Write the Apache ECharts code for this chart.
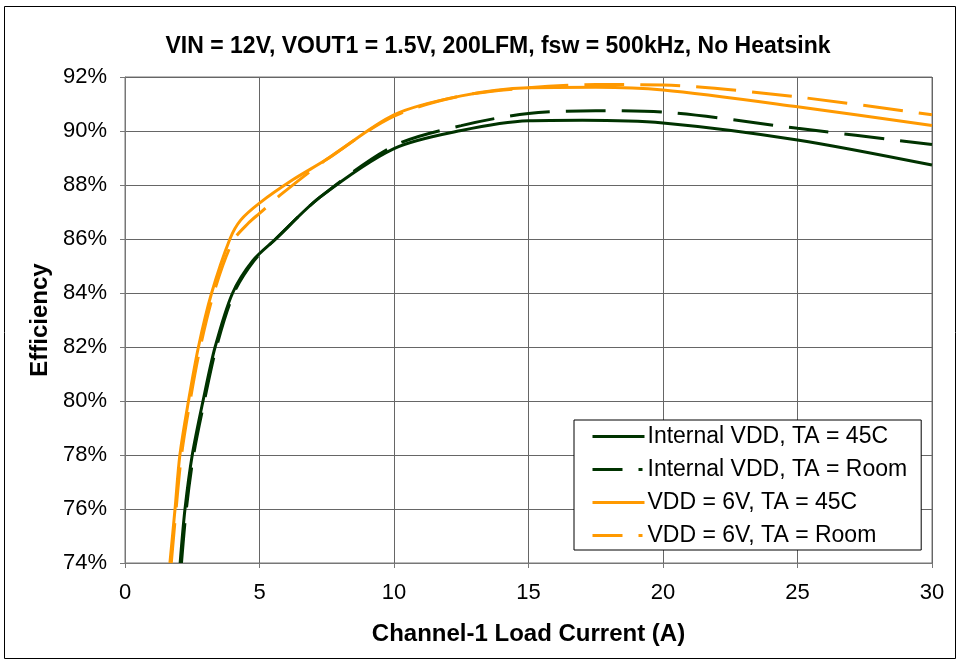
<!DOCTYPE html>
<html>
<head>
<meta charset="utf-8">
<script src="https://cdn.jsdelivr.net/npm/echarts@6/dist/echarts.min.js"></script>
<style>
html, body { margin: 0; padding: 0; background: #fff; }
#box { width: 964px; height: 664px; }
</style>
</head>
<body>
<div id="box"></div>
<script>
// curve data (load current A, efficiency %)
var intHotX = [2.05, 2.23, 2.5, 2.9, 3.35, 4.0, 4.75, 5.6, 7.25, 10, 12.5, 15, 17, 20, 25, 30];
var intHotY = [74, 76, 78, 80, 82, 84, 85.2, 86.0, 87.55, 89.35, 90.02, 90.38, 90.4, 90.3, 89.67, 88.74];

var intRoomX = [2.1, 2.28, 2.55, 2.95, 3.4, 4.05, 4.8, 5.6, 7.25, 10, 12.5, 15, 17.5, 20, 25, 30];
var intRoomY = [74, 76, 78, 80, 82, 84, 85.2, 86.0, 87.55, 89.45, 90.2, 90.65, 90.75, 90.7, 90.1, 89.5];

var vdd6HotX = [1.67, 1.86, 2.04, 2.36, 2.73, 3.22, 3.9, 4.3, 5.0, 6.25, 7.5, 10, 12.5, 15, 17.5, 20, 25, 30];
var vdd6HotY = [74, 76, 78, 80, 82, 84, 86, 86.7, 87.33, 88.2, 88.95, 90.6, 91.3, 91.6, 91.62, 91.52, 90.9, 90.2];

var vdd6RoomX = [1.72, 1.9, 2.1, 2.42, 2.8, 3.3, 4.0, 4.6, 5.0, 5.8, 7.5, 10, 12.5, 15, 17.5, 20, 25, 30];
var vdd6RoomY = [74, 76, 78, 80, 82, 84, 85.9, 86.6, 86.95, 87.65, 88.95, 90.55, 91.3, 91.6, 91.72, 91.7, 91.26, 90.6];

var names = ['Internal VDD, TA = 45C', 'Internal VDD, TA = Room', 'VDD = 6V, TA = 45C', 'VDD = 6V, TA = Room'];
var xTicks = [0, 5, 10, 15, 20, 25, 30];
var yTicks = [74, 76, 78, 80, 82, 84, 86, 88, 90, 92];

var DARK = '#003300';
var ORANGE = '#ff9900';
var FONT = '"Liberation Sans", Arial, sans-serif';

function pairs(xs, ys) {
    return xs.map(function (x, i) { return [x, ys[i]]; });
}

function mkSeries(name, xs, ys, color, dashed) {
    return {
        name: name,
        type: 'line',
        data: pairs(xs, ys),
        smooth: 0.3,
        symbol: 'none',
        clip: true,
        lineStyle: { color: color, width: 3, type: dashed ? [40, 16] : 'solid' },
        itemStyle: { color: color }
    };
}

// legend entries: dashed ones show the dash-dot sample like the original
var legendData = names.map(function (n, i) {
    var item = { name: n };
    if (i % 2 === 1) item.lineStyle = { type: [30, 16, 4, 16], width: 3 };
    return item;
});

var chart = echarts.init(document.getElementById('box'));
var option = {
    animation: false,
    backgroundColor: '#fff',
    textStyle: { fontFamily: FONT },
    title: {
        text: 'VIN = 12V, VOUT1 = 1.5V, 200LFM, fsw = 500kHz, No Heatsink',
        left: 493, top: 30, textAlign: 'center',
        textStyle: { fontSize: 23, fontWeight: 'bold', color: '#000', fontFamily: FONT }
    },
    graphic: [{
        type: 'rect',
        shape: { x: 4.5, y: 6.5, width: 951, height: 652 },
        style: { fill: 'none', stroke: '#000', lineWidth: 1 },
        silent: true
    }],
    grid: { left: 125, right: 32, top: 77, bottom: 101, show: true, borderColor: '#777', borderWidth: 1 },
    legend: {
        orient: 'vertical',
        left: 574, top: 420,
        data: legendData,
        itemWidth: 52, itemHeight: 10, itemGap: 10,
        padding: [5, 14, 3, 17],
        borderColor: '#000', borderWidth: 1, backgroundColor: '#fff',
        itemStyle: { opacity: 0 },
        lineStyle: { width: 3 },
        textStyle: { fontSize: 23, color: '#000', fontFamily: FONT, padding: [0, 0, 0, -2] }
    },
    xAxis: {
        type: 'value', min: 0, max: 30, interval: 5,
        name: 'Channel-1 Load Current (A)', nameLocation: 'middle', nameGap: 59,
        nameTextStyle: { fontSize: 24, fontWeight: 'bold', color: '#000', fontFamily: FONT },
        axisLine: { show: true, lineStyle: { color: '#777' } },
        axisTick: { show: true, inside: false, length: 5, lineStyle: { color: '#777' } },
        axisLabel: { fontSize: 22, color: '#000', margin: 19, fontFamily: FONT,
            formatter: function (v) { return xTicks.indexOf(v) >= 0 ? String(v) : ''; } },
        splitLine: { show: true, lineStyle: { color: '#666', width: 1 } }
    },
    yAxis: {
        type: 'value', min: 74, max: 92, interval: 2,
        name: 'Efficiency', nameLocation: 'middle', nameGap: 72,
        nameTextStyle: { fontSize: 24, fontWeight: 'bold', color: '#000', fontFamily: FONT },
        axisLine: { show: true, lineStyle: { color: '#777' } },
        axisTick: { show: true, inside: false, length: 5, lineStyle: { color: '#777' } },
        axisLabel: { fontSize: 22, color: '#000', margin: 18, fontFamily: FONT,
            formatter: function (v) { return yTicks.indexOf(v) >= 0 ? v + '%' : ''; } },
        splitLine: { show: true, lineStyle: { color: '#666', width: 1 } }
    },
    series: [
        mkSeries(names[0], intHotX, intHotY, DARK, false),
        mkSeries(names[1], intRoomX, intRoomY, DARK, true),
        mkSeries(names[2], vdd6HotX, vdd6HotY, ORANGE, false),
        mkSeries(names[3], vdd6RoomX, vdd6RoomY, ORANGE, true)
    ]
};
chart.setOption(option);
</script>
</body>
</html>
